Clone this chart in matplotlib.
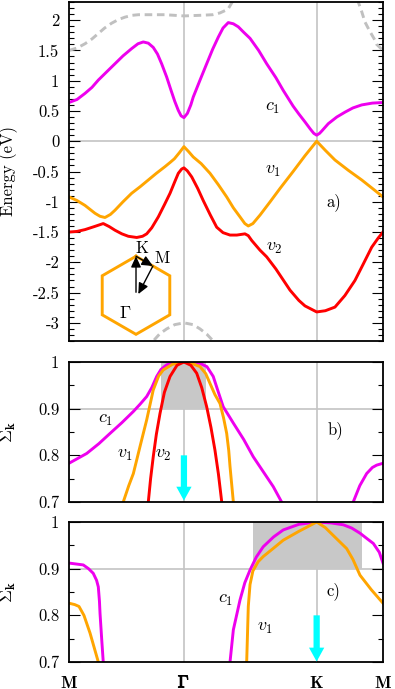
import numpy as np
import matplotlib
matplotlib.use('Agg')
import matplotlib.pyplot as plt
from matplotlib.ticker import MultipleLocator, FuncFormatter
import matplotlib.patheffects as pe

plt.rcParams['font.family'] = 'serif'
plt.rcParams['font.serif'] = ['cmr10']
plt.rcParams['mathtext.fontset'] = 'cm'
plt.rcParams['axes.unicode_minus'] = False
plt.rcParams['axes.formatter.use_mathtext'] = True

# high symmetry points along M - Gamma - K - M  (|Gamma M| = 1)
kpts = [0.0, 1.0, 1.0 + 2 / np.sqrt(3), 1.0 + 3 / np.sqrt(3)]
klabels = [r'$\mathbf{M}$', r'$\mathbf{\Gamma}$', r'$\mathbf{K}$', r'$\mathbf{M}$']

# ---- panel a) band energies (eV) ----
c1_k = [0.0, 0.07, 0.139, 0.2, 0.255, 0.33, 0.40, 0.47, 0.545, 0.60, 0.646, 0.69, 0.733, 0.77,
        0.806, 0.85, 0.888, 0.92, 0.951, 0.975, 1.0, 1.03, 1.06, 1.081, 1.14, 1.198, 1.25, 1.299,
        1.34, 1.386, 1.43, 1.473, 1.52, 1.575, 1.65, 1.72, 1.80, 1.864, 1.95, 2.0, 2.053, 2.10,
        2.13, 2.155, 2.18, 2.20, 2.256, 2.33, 2.401, 2.47, 2.547, 2.64, 2.732]
c1_E = [0.64, 0.69, 0.79, 0.89, 1.01, 1.15, 1.28, 1.41, 1.53, 1.61, 1.64, 1.62, 1.55, 1.44,
        1.28, 1.06, 0.84, 0.66, 0.51, 0.42, 0.39, 0.46, 0.60, 0.73, 1.01, 1.28, 1.52, 1.72,
        1.87, 1.96, 1.94, 1.89, 1.80, 1.70, 1.50, 1.28, 1.05, 0.84, 0.58, 0.45, 0.32, 0.20,
        0.13, 0.10, 0.13, 0.17, 0.29, 0.40, 0.48, 0.55, 0.60, 0.63, 0.64]

v1_k = [0.0, 0.07, 0.139, 0.226, 0.27, 0.313, 0.36, 0.40, 0.47, 0.545, 0.62, 0.69, 0.76, 0.835,
        0.88, 0.917, 0.96, 1.0, 1.04, 1.081, 1.15, 1.227, 1.30, 1.372, 1.43, 1.488, 1.53, 1.56,
        1.60, 1.662, 1.75, 1.836, 1.95, 2.053, 2.155, 2.23, 2.314, 2.43, 2.547, 2.64, 2.732]
v1_E = [-0.92, -0.98, -1.06, -1.19, -1.24, -1.26, -1.21, -1.14, -1.00, -0.86, -0.75, -0.64, -0.53, -0.42,
        -0.35, -0.29, -0.19, -0.09, -0.17, -0.26, -0.37, -0.53, -0.72, -0.92, -1.10, -1.25, -1.36, -1.40,
        -1.36, -1.22, -1.00, -0.78, -0.50, -0.24, 0.0, -0.15, -0.31, -0.48, -0.64, -0.78, -0.92]

v2_k = [0.0, 0.07, 0.139, 0.22, 0.298, 0.35, 0.40, 0.46, 0.516, 0.589, 0.64, 0.676, 0.72, 0.777,
        0.83, 0.879, 0.92, 0.951, 0.98, 1.0, 1.03, 1.068, 1.12, 1.168, 1.23, 1.285, 1.34, 1.401,
        1.46, 1.531, 1.56, 1.590, 1.662, 1.72, 1.80, 1.923, 2.0, 2.053, 2.155, 2.23, 2.314, 2.40,
        2.488, 2.56, 2.634, 2.69, 2.732]
v2_E = [-1.50, -1.49, -1.46, -1.41, -1.36, -1.41, -1.47, -1.53, -1.57, -1.59, -1.57, -1.53, -1.43, -1.25,
        -1.05, -0.86, -0.67, -0.53, -0.46, -0.44, -0.49, -0.59, -0.78, -0.98, -1.22, -1.42, -1.51, -1.55,
        -1.55, -1.53, -1.56, -1.64, -1.80, -1.91, -2.11, -2.46, -2.63, -2.72, -2.82, -2.80, -2.74, -2.55,
        -2.30, -2.03, -1.75, -1.60, -1.50]

# other bands (grey dashed)
up_k = [0.0, 0.07, 0.139, 0.2, 0.255, 0.31, 0.371, 0.43, 0.487, 0.55, 0.603, 0.835, 1.0, 1.14,
        1.25, 1.314, 1.36, 1.386, 1.43, 1.47, 2.49, 2.517, 2.547, 2.575, 2.619, 2.662, 2.677, 2.732]
up_E = [1.50, 1.54, 1.61, 1.69, 1.78, 1.87, 1.95, 2.01, 2.05, 2.08, 2.09, 2.09, 2.07, 2.08,
        2.09, 2.12, 2.16, 2.19, 2.33, 2.50, 2.50, 2.30, 2.14, 1.97, 1.81, 1.67, 1.60, 1.50]
low_k = [0.68, 0.733, 0.79, 0.85, 0.92, 1.0, 1.08, 1.14, 1.20, 1.255, 1.30]
low_E = [-3.45, -3.30, -3.18, -3.10, -3.03, -3.00, -3.03, -3.10, -3.19, -3.30, -3.45]

# ---- panel b) Sigma_k ----
b_c1_k = [0.0, 0.154, 0.26, 0.357, 0.46, 0.56, 0.62, 0.676, 0.72, 0.763, 0.80, 0.85, 0.92, 1.0,
          1.07, 1.14, 1.20, 1.255, 1.30, 1.342, 1.38, 1.43, 1.52, 1.603, 1.69, 1.777, 1.85, 2.155,
          2.473, 2.53, 2.59, 2.64, 2.677, 2.732]
b_c1_S = [0.783, 0.804, 0.825, 0.847, 0.870, 0.894, 0.910, 0.926, 0.945, 0.969, 0.984, 0.994, 0.999, 1.0,
          0.999, 0.997, 0.99, 0.969, 0.935, 0.904, 0.889, 0.869, 0.834, 0.797, 0.765, 0.733, 0.70, 0.55,
          0.70, 0.735, 0.761, 0.774, 0.779, 0.783]
b_v1_k = [0.40, 0.472, 0.52, 0.56, 0.618, 0.676, 0.733, 0.78, 0.82, 0.90, 1.0, 1.07, 1.14, 1.19,
          1.227, 1.27, 1.314, 1.345, 1.372, 1.39, 1.401, 1.43, 1.47]
b_v1_S = [0.62, 0.70, 0.735, 0.761, 0.819, 0.876, 0.94, 0.97, 0.983, 0.995, 1.0, 0.997, 0.99, 0.975,
          0.954, 0.93, 0.911, 0.88, 0.847, 0.81, 0.776, 0.70, 0.62]
b_v2_k = [0.66, 0.69, 0.71, 0.733, 0.76, 0.792, 0.83, 0.879, 0.94, 1.0, 1.06, 1.111, 1.155, 1.198,
          1.235, 1.27, 1.30, 1.329, 1.36]
b_v2_S = [0.62, 0.70, 0.75, 0.797, 0.845, 0.89, 0.935, 0.969, 0.993, 1.0, 0.993, 0.976, 0.945, 0.904,
          0.86, 0.811, 0.76, 0.70, 0.62]

# ---- panel c) Sigma_k ----
c_c1_k = [0.0, 0.124, 0.17, 0.211, 0.24, 0.255, 0.265, 0.27, 0.285, 0.298, 0.32, 1.0, 1.38, 1.401,
          1.43, 1.488, 1.53, 1.575, 1.63, 1.69, 1.78, 1.864, 2.0, 2.155, 2.28, 2.387, 2.46, 2.532,
          2.60, 2.648, 2.70, 2.732]
c_c1_S = [0.912, 0.908, 0.90, 0.89, 0.875, 0.861, 0.83, 0.804, 0.747, 0.70, 0.55, 0.30, 0.62, 0.70,
          0.769, 0.833, 0.87, 0.897, 0.925, 0.947, 0.968, 0.983, 0.995, 1.0, 0.998, 0.994, 0.987, 0.976,
          0.963, 0.954, 0.935, 0.912]
c_v1_k = [0.0, 0.05, 0.087, 0.13, 0.183, 0.255, 0.28, 1.0, 1.54, 1.546, 1.56, 1.575, 1.60, 1.646,
          1.69, 1.78, 1.864, 2.0, 2.155, 2.23, 2.30, 2.416, 2.47, 2.532, 2.63, 2.732]
c_v1_S = [0.826, 0.823, 0.819, 0.80, 0.762, 0.70, 0.62, 0.30, 0.62, 0.70, 0.819, 0.866, 0.895, 0.915,
          0.926, 0.944, 0.961, 0.98, 1.0, 0.988, 0.971, 0.943, 0.92, 0.886, 0.855, 0.826]

# shaded regions (k range) where Sigma_k > 0.9
b_shade = (0.80, 1.19)
c_shade = (1.604, 2.547)

MAG, ORA, RED, CYA = '#ee00ee', '#ffa500', '#ff0000', '#00ffff'
GRID = '#c4c4c4'
LW = 2.1

fig = plt.figure(figsize=(3.95, 6.89), dpi=100)
L, W = 69 / 395, 314 / 395
ax_a = fig.add_axes([L, 1 - 341 / 689, W, 339 / 689])
ax_b = fig.add_axes([L, 1 - 502 / 689, W, 140 / 689])
ax_c = fig.add_axes([L, 1 - 662 / 689, W, 140 / 689])

fmt = FuncFormatter(lambda v, p: '%g' % round(v, 3))


def style(ax, major, minor):
    ax.set_xlim(kpts[0], kpts[-1])
    ax.set_xticks(kpts)
    ax.tick_params(axis='x', length=0, labelbottom=False)
    ax.yaxis.set_major_locator(MultipleLocator(major))
    ax.yaxis.set_minor_locator(MultipleLocator(minor))
    ax.yaxis.set_major_formatter(fmt)
    ax.tick_params(axis='y', which='both', direction='in', left=True, right=True,
                   width=0.8, labelsize=12, pad=7)
    ax.tick_params(axis='y', which='major', length=8)
    ax.tick_params(axis='y', which='minor', length=3.6)
    for s in ax.spines.values():
        s.set_linewidth(1.3)
    for k in kpts[1:3]:
        ax.axvline(k, color=GRID, lw=1.2, zorder=0)


# panel a
style(ax_a, 0.5, 0.1)
ax_a.set_ylim(-3.3, 2.3)
ax_a.axhline(0, color=GRID, lw=1.2, zorder=0)
ax_a.plot(up_k, up_E, color='#c0c0c0', lw=LW, ls=(0, (2.6, 1.6)))
ax_a.plot(low_k, low_E, color='#c0c0c0', lw=LW, ls=(0, (2.6, 1.6)))
ax_a.plot(c1_k, c1_E, color=MAG, lw=LW)
ax_a.plot(v1_k, v1_E, color=ORA, lw=LW)
ax_a.plot(v2_k, v2_E, color=RED, lw=LW)
ax_a.set_ylabel('Energy (eV)', fontsize=12)
ax_a.yaxis.set_label_coords(-0.162, 0.5)
ax_a.text(1.775, 0.545, r'$c_1$', fontsize=13, ha='center', va='center')
ax_a.text(1.775, -0.50, r'$v_1$', fontsize=13, ha='center', va='center')
ax_a.text(1.79, -1.77, r'$v_2$', fontsize=13, ha='center', va='center')
ax_a.text(2.30, -1.0, 'a)', fontsize=12, ha='center', va='center')

# Brillouin zone inset (pointy-top hexagon)
hc, hE, rx, rE = 0.583, -2.545, 0.294, 0.645
ang = np.deg2rad(np.arange(90, 451, 60))
ax_a.plot(hc + rx * np.cos(ang) / np.cos(np.pi / 6), hE + rE * np.sin(ang),
          color=ORA, lw=LW, solid_joinstyle='miter')
Kp = (hc, hE + rE)
Mp = (hc + rx / 2, hE + 0.75 * rE)
Gp = (hc, hE)
arr = dict(arrowstyle='-|>,head_length=0.65,head_width=0.3', color='k', lw=1.0,
           shrinkA=0, shrinkB=0, mutation_scale=10)
ax_a.annotate('', xy=Kp, xytext=(Gp[0], Gp[1] + 0.05), arrowprops=arr)
ax_a.annotate('', xy=Mp, xytext=Kp, arrowprops=arr)
ax_a.annotate('', xy=(Gp[0] + 0.02, Gp[1] + 0.02), xytext=Mp, arrowprops=arr)
ax_a.text(0.633, -1.77, 'K', fontsize=12, ha='center', va='center')
ax_a.text(0.809, -1.93, 'M', fontsize=12, ha='center', va='center')
ax_a.text(0.487, -2.84, r'$\Gamma$', fontsize=13, ha='center', va='center')

# panels b and c
cyan_arrow = dict(arrowstyle='simple,head_width=1.1,head_length=1.0,tail_width=0.45',
                  color=CYA, lw=0, shrinkA=0, shrinkB=0, mutation_scale=10)
for ax, shade in ((ax_b, b_shade), (ax_c, c_shade)):
    style(ax, 0.1, 0.05)
    ax.set_ylim(0.7, 1.0)
    ax.axhline(0.9, color=GRID, lw=1.2, zorder=0)
    ax.fill_between(shade, 0.9, 1.0, color='#c8c8c8', lw=0, zorder=0.5)
    ax.set_ylabel(r'$\Sigma_{\mathbf{k}}$', fontsize=13)
    ax.yaxis.set_label_coords(-0.162, 0.5)

ax_b.plot(b_c1_k, b_c1_S, color=MAG, lw=LW)
ax_b.plot(b_v1_k, b_v1_S, color=ORA, lw=LW)
ax_b.plot(b_v2_k, b_v2_S, color=RED, lw=LW)
ax_b.annotate('', xy=(kpts[1], 0.703), xytext=(kpts[1], 0.80), arrowprops=cyan_arrow)
ax_b.text(0.322, 0.876, r'$c_1$', fontsize=13, ha='center', va='center')
ax_b.text(0.487, 0.80, r'$v_1$', fontsize=13, ha='center', va='center')
ax_b.text(0.82, 0.80, r'$v_2$', fontsize=13, ha='center', va='center')
ax_b.text(2.315, 0.854, 'b)', fontsize=12, ha='center', va='center')

ax_c.plot(c_c1_k, c_c1_S, color=MAG, lw=LW)
ax_c.plot(c_v1_k, c_v1_S, color=ORA, lw=LW)
ax_c.annotate('', xy=(kpts[2], 0.701), xytext=(kpts[2], 0.80), arrowprops=cyan_arrow)
ax_c.text(1.366, 0.833, r'$c_1$', fontsize=13, ha='center', va='center')
ax_c.text(1.706, 0.772, r'$v_1$', fontsize=13, ha='center', va='center')
ax_c.text(2.30, 0.851, 'c)', fontsize=12, ha='center', va='center')

ax_c.tick_params(axis='x', labelbottom=True, labelsize=12.5, pad=9)
ax_c.set_xticklabels(klabels)
ax_c.get_xticklabels()[1].set_path_effects([pe.withStroke(linewidth=0.7, foreground='k')])

fig.savefig('out.png', dpi=100)
